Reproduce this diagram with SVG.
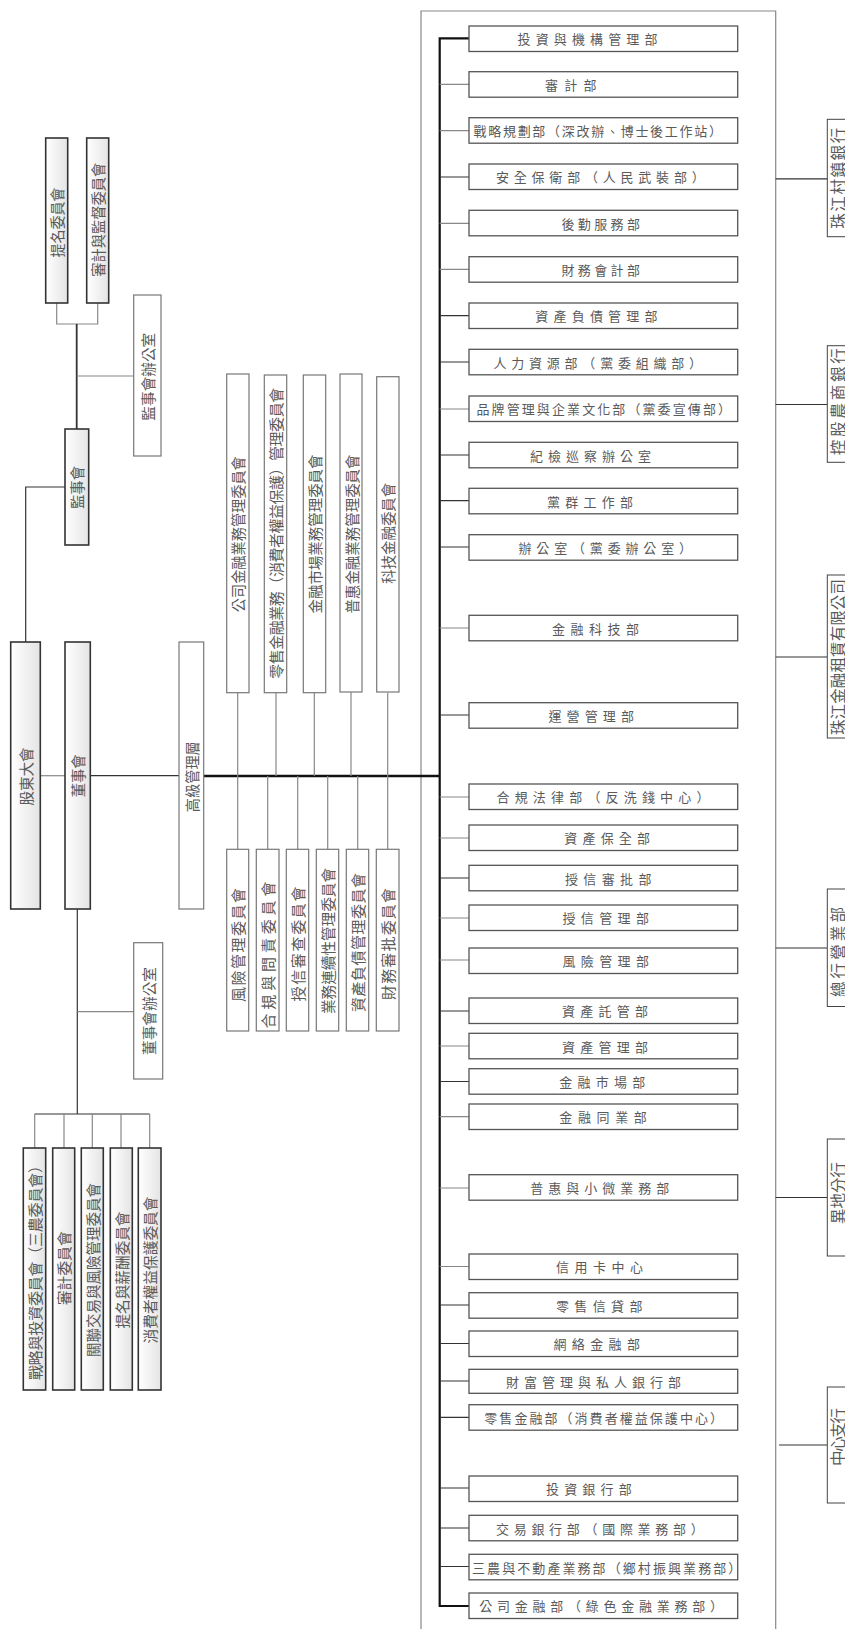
<svg xmlns="http://www.w3.org/2000/svg" width="845" height="1629" viewBox="0 0 845 1629">
<defs>
<linearGradient id="gb" x1="0" y1="0" x2="1" y2="0">
<stop offset="0" stop-color="#ffffff"/>
<stop offset="1" stop-color="#e4e4e4"/>
</linearGradient>
</defs>
<style>
text{font-family:"Noto Sans CJK TC","Noto Sans CJK SC",sans-serif;fill:#5a5a5a;dominant-baseline:central}
.b{fill:url(#gb);stroke:#333;stroke-width:1.6}
.w{fill:#fff;stroke:#777;stroke-width:1.2}
.d{fill:#fff;stroke:#555;stroke-width:1.3}
.r{fill:#fff;stroke:#444;stroke-width:1}
.v{font-size:15px;text-anchor:middle}
.h{font-size:13px;text-anchor:start}
.rv{font-size:15.5px;text-anchor:middle}
.cd{fill:none;stroke:#333;stroke-width:1.2}
.cg{fill:none;stroke:#888;stroke-width:1.2}
.ck{fill:none;stroke:#111;stroke-width:2.2}
</style>
<g id="connectors">
<path class="cg" d="M421,1629 V11 H775.7 V1629"/>
<path class="cg" d="M56.7,303 V324 H97.7 V303"/>
<path class="ck" d="M76.7,324 V429" style="stroke-width:1.8;stroke:#333"/>
<path class="cg" d="M76.7,376 H133.7"/>
<path class="cd" d="M65,487 H25.7 V642"/>
<path class="cg" d="M40.3,775.7 H65"/>
<path class="cd" d="M90.3,775.7 H179"/>
<path class="cd" d="M77.3,909 V1114"/>
<path class="cg" d="M77.3,1011.7 H133.7"/>
<path class="cd" d="M34.7,1114 H149.7"/>
<path class="cg" d="M34.7,1114 V1148 M64,1114 V1148 M92.3,1114 V1148 M121,1114 V1148 M149.7,1114 V1148"/>
<path class="ck" d="M203.7,776 H439.7" style="stroke-width:2.6"/>
<path class="cg" d="M237.7,692.7 V849.3 M387.7,692.7 V849.3 M276,692.7 V776 M314.3,692.7 V776 M351,692 V776"/>
<path class="cg" d="M267.7,776 V849.3 M297.7,776 V849.3 M327.7,776 V849.3 M357.7,776 V849.3"/>
<path class="ck" d="M469,38.3 H439.7 V1606 H469"/>
<path class="cg" d="M439.7,84.3 H469 M439.7,130.7 H469 M439.7,223.3 H469 M439.7,269.3 H469 M439.7,409 H469 M439.7,628 H469 M439.7,797 H469 M439.7,838 H469 M439.7,918 H469 M439.7,960 H469 M439.7,1046 H469 M439.7,1116.7 H469 M439.7,1188 H469 M439.7,1266.5 H469"/>
<path class="cd" d="M439.7,177 H469 M439.7,315.7 H469 M439.7,362 H469 M439.7,455 H469 M439.7,500.7 H469 M439.7,547 H469 M439.7,715 H469 M439.7,878 H469 M439.7,1011 H469 M439.7,1081.5 H469 M439.7,1305 H469 M439.7,1343.5 H469 M439.7,1381 H469 M439.7,1417.3 H469 M439.7,1488 H469 M439.7,1528 H469 M439.7,1566.5 H469"/>
<path class="cd" d="M775.7,178.8 H827.3 M775.7,404.5 H827.3 M775.7,657 H827.3 M775.7,948 H827.3 M775.7,1197.5 H827.3 M779,1445 H827.3"/>
</g>
<g id="n-timing"><rect class="b" x="45.7" y="138" width="22" height="165"/><text class="v" transform="translate(56.7,222.5) rotate(-90)" textLength="70" lengthAdjust="spacingAndGlyphs">提名委員會</text></g>
<g id="n-shenji-jiandu"><rect class="b" x="86.7" y="138" width="22" height="165"/><text class="v" transform="translate(97.7,219.7) rotate(-90)" textLength="114" lengthAdjust="spacingAndGlyphs">審計與監督委員會</text></g>
<g id="n-jianshihui-office"><rect class="w" x="133.7" y="295" width="27.3" height="161"/><text class="v" transform="translate(147.3,376.7) rotate(-90)" textLength="88" lengthAdjust="spacingAndGlyphs">監事會辦公室</text></g>
<g id="n-jianshihui"><rect class="b" x="65" y="429" width="23.7" height="116"/><text class="v" transform="translate(76.8,487.5) rotate(-90)" textLength="43" lengthAdjust="spacingAndGlyphs">監事會</text></g>
<g id="n-gudong"><rect class="b" x="10.7" y="642" width="29.6" height="267"/><text class="v" transform="translate(25.5,776.5) rotate(-90)" textLength="58" lengthAdjust="spacingAndGlyphs">股東大會</text></g>
<g id="n-dongshihui"><rect class="b" x="65" y="642" width="25.3" height="267"/><text class="v" transform="translate(77.7,775.8) rotate(-90)" textLength="43" lengthAdjust="spacingAndGlyphs">董事會</text></g>
<g id="n-gaoji"><rect class="w" x="179" y="642" width="24.7" height="267"/><text class="v" transform="translate(191.3,776.7) rotate(-90)" textLength="71" lengthAdjust="spacingAndGlyphs">高級管理層</text></g>
<g id="n-dongshihui-office"><rect class="w" x="133.7" y="942.7" width="29" height="136.3"/><text class="v" transform="translate(148.2,1011) rotate(-90)" textLength="88" lengthAdjust="spacingAndGlyphs">董事會辦公室</text></g>
<g id="n-bc1"><rect class="b" x="23.3" y="1148" width="22.4" height="242"/><text class="v" transform="translate(34.5,1269) rotate(-90)" textLength="222">戰略與投資委員會（三農委員會）</text></g>
<g id="n-bc2"><rect class="b" x="52.7" y="1148" width="22" height="242"/><text class="v" transform="translate(63.7,1268.3) rotate(-90)" textLength="74" lengthAdjust="spacingAndGlyphs">審計委員會</text></g>
<g id="n-bc3"><rect class="b" x="81.3" y="1148" width="22" height="242"/><text class="v" transform="translate(92.3,1270) rotate(-90)" textLength="174" lengthAdjust="spacingAndGlyphs">關聯交易與風險管理委員會</text></g>
<g id="n-bc4"><rect class="b" x="110.3" y="1148" width="22" height="242"/><text class="v" transform="translate(121.3,1270) rotate(-90)" textLength="117" lengthAdjust="spacingAndGlyphs">提名與薪酬委員會</text></g>
<g id="n-bc5"><rect class="b" x="138.3" y="1148" width="22.7" height="242"/><text class="v" transform="translate(149.7,1270) rotate(-90)" textLength="147" lengthAdjust="spacingAndGlyphs">消費者權益保護委員會</text></g>
<g id="n-ec1"><rect class="w" x="226.7" y="374" width="22.3" height="318.7"/><text class="v" transform="translate(237.8,534.2) rotate(-90)" textLength="156" lengthAdjust="spacingAndGlyphs">公司金融業務管理委員會</text></g>
<g id="n-ec2"><rect class="w" x="264.3" y="375" width="22.4" height="317.7"/><text class="v" transform="translate(275.5,533.3) rotate(-90)" textLength="291">零售金融業務（消費者權益保護）管理委員會</text></g>
<g id="n-ec3"><rect class="w" x="303.3" y="375" width="22.4" height="317.7"/><text class="v" transform="translate(314.5,534) rotate(-90)" textLength="159" lengthAdjust="spacingAndGlyphs">金融市場業務管理委員會</text></g>
<g id="n-ec4"><rect class="w" x="340" y="374" width="22" height="318"/><text class="v" transform="translate(351,534) rotate(-90)" textLength="159" lengthAdjust="spacingAndGlyphs">普惠金融業務管理委員會</text></g>
<g id="n-ec5"><rect class="w" x="376.7" y="376.7" width="22.3" height="315.3"/><text class="v" transform="translate(387.8,533.3) rotate(-90)" textLength="101" lengthAdjust="spacingAndGlyphs">科技金融委員會</text></g>
<g id="n-lc1"><rect class="w" x="226.7" y="849.3" width="22" height="181.7"/><text class="v" transform="translate(237.7,945) rotate(-90)" textLength="114">風險管理委員會</text></g>
<g id="n-lc2"><rect class="w" x="256.3" y="849.3" width="22.7" height="181.7"/><text class="v" transform="translate(267.7,955) rotate(-90)" textLength="147">合規與問責委員會</text></g>
<g id="n-lc3"><rect class="w" x="286.3" y="849.3" width="22.4" height="181.7"/><text class="v" transform="translate(297.5,944) rotate(-90)" textLength="115">授信審查委員會</text></g>
<g id="n-lc4"><rect class="w" x="316.3" y="849.3" width="22.4" height="181.7"/><text class="v" transform="translate(327.5,941) rotate(-90)" textLength="146" lengthAdjust="spacingAndGlyphs">業務連續性管理委員會</text></g>
<g id="n-lc5"><rect class="w" x="346.3" y="849.3" width="22.4" height="181.7"/><text class="v" transform="translate(357.5,942.5) rotate(-90)" textLength="139">資產負債管理委員會</text></g>
<g id="n-lc6"><rect class="w" x="376.3" y="849.3" width="22.7" height="181.7"/><text class="v" transform="translate(387.7,944) rotate(-90)" textLength="112">財務審批委員會</text></g>
<g id="n-d1"><rect class="d" x="469" y="26" width="268.7" height="25.5"/><text class="h" x="517.5" y="38.8" textLength="140">投資與機構管理部</text></g>
<g id="n-d2"><rect class="d" x="469" y="71.7" width="268.7" height="25.5"/><text class="h" x="545" y="84.5" textLength="51.5">審計部</text></g>
<g id="n-d3"><rect class="d" x="469" y="117.7" width="268.7" height="25.5"/><text class="h" x="473.5" y="130.5" textLength="248.5">戰略規劃部（深改辦、博士後工作站）</text></g>
<g id="n-d4"><rect class="d" x="469" y="164" width="268.7" height="25.5"/><text class="h" x="496" y="176.8" textLength="208.7">安全保衛部（人民武裝部）</text></g>
<g id="n-d5"><rect class="d" x="469" y="210.3" width="268.7" height="25.5"/><text class="h" x="561.5" y="223" textLength="78.5">後勤服務部</text></g>
<g id="n-d6"><rect class="d" x="469" y="256.7" width="268.7" height="25.5"/><text class="h" x="561.5" y="269.5" textLength="78.5">財務會計部</text></g>
<g id="n-d7"><rect class="d" x="469" y="303" width="268.7" height="25.5"/><text class="h" x="535.3" y="315.8" textLength="122.2">資產負債管理部</text></g>
<g id="n-d8"><rect class="d" x="469" y="349.3" width="268.7" height="25.5"/><text class="h" x="493.5" y="362" textLength="208.5">人力資源部（黨委組織部）</text></g>
<g id="n-d9"><rect class="d" x="469" y="396" width="268.7" height="25.5"/><text class="h" x="476.5" y="408.8" textLength="254.5">品牌管理與企業文化部（黨委宣傳部）</text></g>
<g id="n-d10"><rect class="d" x="469" y="442.3" width="268.7" height="25.5"/><text class="h" x="530" y="455" textLength="121">紀檢巡察辦公室</text></g>
<g id="n-d11"><rect class="d" x="469" y="488.3" width="268.7" height="25.5"/><text class="h" x="547" y="501" textLength="86">黨群工作部</text></g>
<g id="n-d12"><rect class="d" x="469" y="534.7" width="268.7" height="25.5"/><text class="h" x="518.5" y="547.5" textLength="173.5">辦公室（黨委辦公室）</text></g>
<g id="n-d13"><rect class="d" x="469" y="615.3" width="268.7" height="25.5"/><text class="h" x="552" y="628" textLength="87">金融科技部</text></g>
<g id="n-d14"><rect class="d" x="469" y="702.7" width="268.7" height="25.5"/><text class="h" x="548.5" y="715.4" textLength="85.5">運營管理部</text></g>
<g id="n-d15"><rect class="d" x="469" y="784" width="268.7" height="25.5"/><text class="h" x="496.5" y="796.8" textLength="213">合規法律部（反洗錢中心）</text></g>
<g id="n-d16"><rect class="d" x="469" y="825" width="268.7" height="25.5"/><text class="h" x="564.3" y="837.8" textLength="85.7">資產保全部</text></g>
<g id="n-d17"><rect class="d" x="469" y="865.3" width="268.7" height="25.5"/><text class="h" x="565" y="878" textLength="86.5">授信審批部</text></g>
<g id="n-d18"><rect class="d" x="469" y="905" width="268.7" height="25.5"/><text class="h" x="562.5" y="917.8" textLength="86.5">授信管理部</text></g>
<g id="n-d19"><rect class="d" x="469" y="948" width="268.7" height="25.5"/><text class="h" x="562.5" y="960.8" textLength="86.5">風險管理部</text></g>
<g id="n-d20"><rect class="d" x="469" y="998" width="268.7" height="25.5"/><text class="h" x="562" y="1010.8" textLength="86">資產託管部</text></g>
<g id="n-d21"><rect class="d" x="469" y="1033.3" width="268.7" height="25.5"/><text class="h" x="562" y="1046" textLength="86">資產管理部</text></g>
<g id="n-d22"><rect class="d" x="469" y="1068.7" width="268.7" height="25.5"/><text class="h" x="559.3" y="1081.5" textLength="86">金融市場部</text></g>
<g id="n-d23"><rect class="d" x="469" y="1104" width="268.7" height="25.5"/><text class="h" x="559.3" y="1116.8" textLength="87.5">金融同業部</text></g>
<g id="n-d24"><rect class="d" x="469" y="1174.7" width="268.7" height="25.5"/><text class="h" x="530.3" y="1187.5" textLength="139">普惠與小微業務部</text></g>
<g id="n-d25"><rect class="d" x="469" y="1254" width="268.7" height="25.5"/><text class="h" x="556" y="1266.8" textLength="87">信用卡中心</text></g>
<g id="n-d26"><rect class="d" x="469" y="1292.7" width="268.7" height="25.5"/><text class="h" x="556" y="1305.5" textLength="86.5">零售信貸部</text></g>
<g id="n-d27"><rect class="d" x="469" y="1331" width="268.7" height="25.5"/><text class="h" x="553.5" y="1343.8" textLength="86.5">網絡金融部</text></g>
<g id="n-d28"><rect class="d" x="469" y="1369.3" width="268.7" height="24"/><text class="h" x="506" y="1381.3" textLength="175">財富管理與私人銀行部</text></g>
<g id="n-d29"><rect class="d" x="469" y="1404.7" width="268.7" height="25.5"/><text class="h" x="484.3" y="1417.5" textLength="238.7">零售金融部（消費者權益保護中心）</text></g>
<g id="n-d30"><rect class="d" x="469" y="1476" width="268.7" height="25.5"/><text class="h" x="546" y="1488.8" textLength="85.7">投資銀行部</text></g>
<g id="n-d31"><rect class="d" x="469" y="1515.3" width="268.7" height="25.5"/><text class="h" x="496" y="1528" textLength="207.7">交易銀行部（國際業務部）</text></g>
<g id="n-d32"><rect class="d" x="469" y="1554.3" width="268.7" height="25.5"/><text class="h" x="472" y="1567" textLength="269.3">三農與不動產業務部（鄉村振興業務部）</text></g>
<g id="n-d33"><rect class="d" x="469" y="1593" width="268.7" height="25.5"/><text class="h" x="479.3" y="1605.8" textLength="243.7">公司金融部（綠色金融業務部）</text></g>
<g id="n-r1"><rect class="r" x="827.3" y="119.3" width="30" height="117.4"/><text class="rv" transform="translate(837,178.3) rotate(-90)" textLength="101">珠江村鎮銀行</text></g>
<g id="n-r2"><rect class="r" x="827.3" y="345.7" width="30" height="116.6"/><text class="rv" transform="translate(837,401.7) rotate(-90)" textLength="107">控股農商銀行</text></g>
<g id="n-r3"><rect class="r" x="827.3" y="575" width="30" height="163"/><text class="rv" transform="translate(837,657) rotate(-90)" textLength="156">珠江金融租賃有限公司</text></g>
<g id="n-r4"><rect class="r" x="827.3" y="889" width="30" height="117.5"/><text class="rv" transform="translate(837,952) rotate(-90)" textLength="90">總行營業部</text></g>
<g id="n-r5"><rect class="r" x="827.3" y="1139" width="30" height="117"/><text class="rv" transform="translate(837,1193) rotate(-90)" textLength="62">異地分行</text></g>
<g id="n-r6"><rect class="r" x="827.3" y="1387" width="30" height="116"/><text class="rv" transform="translate(837,1437) rotate(-90)" textLength="58">中心支行</text></g>
</svg>
